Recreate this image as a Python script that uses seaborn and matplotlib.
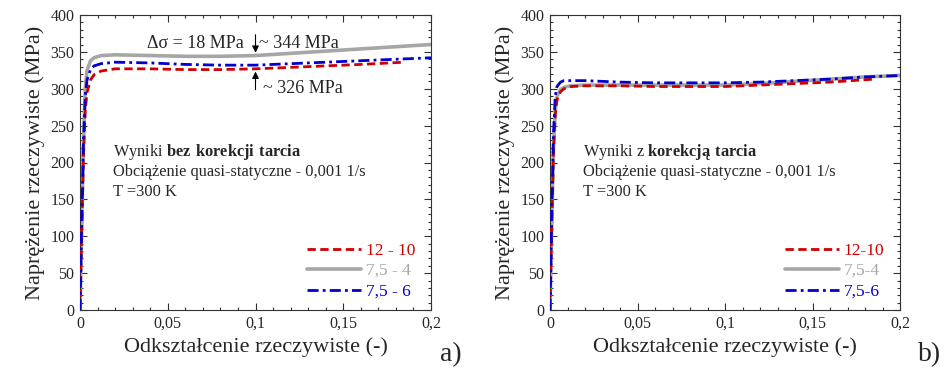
import numpy as np
import pandas as pd
import matplotlib
matplotlib.use("Agg")
import matplotlib.pyplot as plt
from matplotlib.ticker import MultipleLocator, FixedLocator, FixedFormatter
import seaborn as sns

# ---- data ----
strain = [0, 0.001, 0.002, 0.003, 0.004, 0.006, 0.008, 0.012, 0.02, 0.04,
          0.06, 0.08, 0.10, 0.12, 0.14, 0.16, 0.18, 0.20]
strain_red = [0, 0.001, 0.002, 0.003, 0.004, 0.006, 0.008, 0.012, 0.02, 0.04,
              0.06, 0.08, 0.10, 0.12, 0.14, 0.16, 0.185]

# panel a) - without friction correction
a_gray = [0, 120, 230, 300, 325, 338, 342, 345, 346, 345, 344, 344, 345, 348, 351, 354, 357, 360]
a_blue = [0, 120, 230, 290, 312, 326, 331, 334, 336, 335, 333, 332, 332, 334, 336, 338, 340, 342]
a_red = [0, 110, 210, 270, 295, 312, 319, 324, 327, 327, 326, 326, 327, 329, 331, 333, 336]

# panel b) - with friction correction
b_gray = [0, 120, 220, 270, 290, 299, 302, 304, 305, 305, 305, 305, 305, 307, 310, 313, 316, 318]
b_blue = [0, 130, 240, 290, 303, 309, 311, 311, 311, 309, 308, 308, 308, 309, 311, 313, 316, 318]
b_red = [0, 115, 215, 265, 285, 296, 300, 303, 304, 304, 303, 303, 303, 305, 307, 309, 313]

series_labels_a = ["12 - 10", "7,5 - 4", "7,5 - 6"]
series_labels_b = ["12-10", "7,5-4", "7,5-6"]
xtick_vals = [0, 0.05, 0.1, 0.15, 0.2]
xtick_labels = ["0", "0,05", "0,1", "0,15", "0,2"]
ytick_vals = [0, 50, 100, 150, 200, 250, 300, 350, 400]

sns.set_theme(style="ticks")
plt.rcParams["font.family"] = ["Liberation Serif", "DejaVu Serif"]
plt.rcParams["mathtext.fontset"] = "custom"
plt.rcParams["mathtext.rm"] = "Liberation Serif"
plt.rcParams["mathtext.bf"] = "Liberation Serif:bold"

fig = plt.figure(figsize=(9.5, 3.75), dpi=100)
axA = fig.add_axes([80 / 950, 65 / 375, 351 / 950, 295 / 375])
axB = fig.add_axes([550 / 950, 65 / 375, 350 / 950, 295 / 375])

RED = "#d00000"
GRAY = "#a6a6a6"
BLUE = "#0000d0"


def draw(ax, gray, blue, red, labels):
    d_red = pd.DataFrame({"x": strain_red, "y": red})
    d_gray = pd.DataFrame({"x": strain, "y": gray})
    d_blue = pd.DataFrame({"x": strain, "y": blue})
    sns.lineplot(data=d_gray, x="x", y="y", ax=ax, color=GRAY, lw=2.6,
                 sort=False, estimator=None, label=labels[1], zorder=2)
    sns.lineplot(data=d_red, x="x", y="y", ax=ax, color=RED, lw=2.0,
                 sort=False, estimator=None, label=labels[0], zorder=3,
                 linestyle=(0, (3, 1.6)))
    sns.lineplot(data=d_blue, x="x", y="y", ax=ax, color=BLUE, lw=2.0,
                 sort=False, estimator=None, label=labels[2], zorder=4,
                 linestyle=(0, (4, 1.5, 1, 1.5)))
    ax.set_xlim(0, 0.2)
    ax.set_ylim(0, 400)
    ax.xaxis.set_major_locator(FixedLocator(xtick_vals))
    ax.xaxis.set_major_formatter(FixedFormatter(xtick_labels))
    ax.xaxis.set_minor_locator(MultipleLocator(0.01))
    ax.yaxis.set_major_locator(FixedLocator(ytick_vals))
    ax.yaxis.set_minor_locator(MultipleLocator(10))
    ax.tick_params(which="both", direction="in", top=True, right=True,
                   labelsize=11.5, width=0.8, color="#333333", pad=4)
    ax.tick_params(which="major", length=5)
    ax.tick_params(which="minor", length=2.5)
    for s in ax.spines.values():
        s.set_visible(True)
        s.set_linewidth(0.8)
        s.set_color("#333333")
    ax.set_xlabel("Odkształcenie rzeczywiste (-)", fontsize=16, labelpad=4)
    ax.set_ylabel("Naprężenie rzeczywiste (MPa)", fontsize=16, labelpad=4)
    h, l = ax.get_legend_handles_labels()
    order = [1, 0, 2]
    leg = ax.legend([h[i] for i in order], [l[i] for i in order],
                    loc="lower right", bbox_to_anchor=(0.985, 0.0),
                    frameon=False, fontsize=12.5, handlelength=3.1,
                    handletextpad=0.3, labelspacing=0.25, borderaxespad=0.2)
    for t, c in zip(leg.get_texts(), [RED, GRAY, BLUE]):
        t.set_color(c)


draw(axA, a_gray, a_blue, a_red, series_labels_a)
draw(axB, b_gray, b_blue, b_red, series_labels_b)

# text blocks
for ax, first in [(axA, "Wyniki $\\mathbf{bez\\ korekcji\\ tarcia}$"),
                  (axB, "Wyniki z $\\mathbf{korekcją\\ tarcia}$")]:
    kw = dict(fontsize=11.8, va="center", ha="left", transform=ax.transAxes)
    ax.text(0.094, 0.536, first, **kw)
    ax.text(0.094, 0.468, "Obciążenie quasi-statyczne - 0,001 1/s", **kw)
    ax.text(0.094, 0.400, "T =300 K", **kw)

# annotations on panel a)
axA.text(0.038, 361, "Δσ = 18 MPa", fontsize=13, va="center", ha="left")
axA.text(0.102, 361, "~ 344 MPa", fontsize=13, va="center", ha="left")
axA.text(0.104, 301, "~ 326 MPa", fontsize=13, va="center", ha="left")
axA.annotate("", xy=(0.1, 345), xytext=(0.1, 377),
             arrowprops=dict(arrowstyle="-|>", color="black", lw=0.8,
                             mutation_scale=10))
axA.annotate("", xy=(0.1, 327), xytext=(0.1, 295),
             arrowprops=dict(arrowstyle="-|>", color="black", lw=0.8,
                             mutation_scale=10))

fig.text(440 / 950, 1 - 355 / 375, "a)", fontsize=20, ha="left", va="center")
fig.text(918 / 950, 1 - 355 / 375, "b)", fontsize=20, ha="left", va="center")

fig.savefig("out.png", dpi=100)
